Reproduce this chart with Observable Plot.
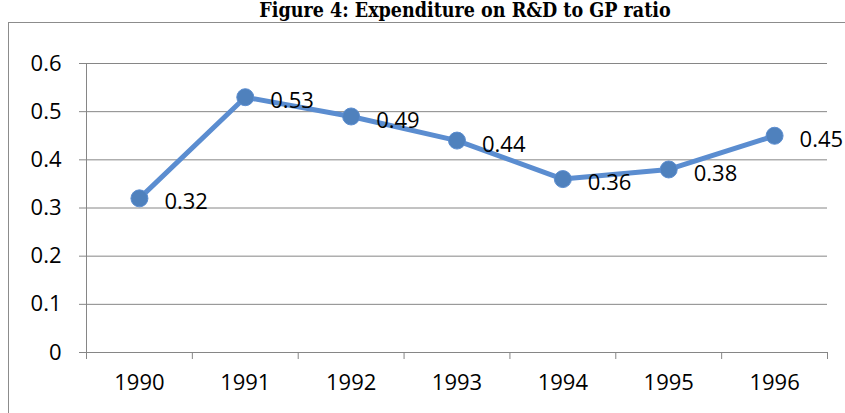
<!DOCTYPE html>
<html>
<head>
<meta charset="utf-8">
<script src="https://cdn.jsdelivr.net/npm/d3@7"></script>
<script src="https://cdn.jsdelivr.net/npm/@observablehq/plot@0.6"></script>
<style>
  html, body { margin: 0; padding: 0; background: #fff; overflow: hidden; }
  #title { position: absolute; left: 0; top: 0; width: 930px; text-align: center;
    font-family: "DejaVu Serif Condensed", "DejaVu Serif", serif; font-weight: bold; font-size: 19.5px; line-height: 22px; color: #000; }
  #box { position: absolute; left: 8px; top: 22px; width: 845px; height: 400px; border: 1px solid #8c8c8c; box-sizing: border-box; }
  #chart { position: absolute; left: 9px; top: 23px; }
</style>
</head>
<body>
<div id="title">Figure 4: Expenditure on R&amp;D to GP ratio</div>
<div id="box"></div>
<div id="chart"></div>
<script>
const years = [1990, 1991, 1992, 1993, 1994, 1995, 1996];
const ratios = [0.32, 0.53, 0.49, 0.44, 0.36, 0.38, 0.45];
const yTicks = [0, 0.1, 0.2, 0.3, 0.4, 0.5, 0.6];

const data = years.map((y, i) => ({year: y, value: ratios[i]}));
const boundaries = years.map(y => y - 0.5).concat([years[years.length - 1] + 0.5]);

const gray = "#868686";
const blue = "#4F81BD";

const chart = Plot.plot({
  width: 836,
  height: 390,
  marginLeft: 77,
  marginRight: 18,
  marginTop: 40,
  marginBottom: 61,
  style: {fontFamily: "'Open Sans', sans-serif", fontSize: "22px", color: "#000", background: "transparent"},
  x: {type: "linear", domain: [boundaries[0], boundaries[boundaries.length - 1]]},
  y: {domain: [0, 0.6]},
  marks: [
    Plot.gridY(yTicks, {stroke: gray, strokeOpacity: 1, strokeWidth: 1}),
    Plot.ruleX([boundaries[0]], {stroke: gray, strokeWidth: 1}),
    Plot.axisY({ticks: yTicks, tickSize: 7, tickPadding: 18, stroke: gray, strokeOpacity: 1, label: null,
      tickFormat: d => d === 0 ? "0" : d.toFixed(1), fill: "#000"}),
    Plot.axisX({ticks: boundaries, tickSize: 7, tickFormat: () => "", stroke: gray, strokeOpacity: 1, label: null}),
    Plot.axisX({ticks: years, tickSize: 0, tickPadding: 22, tickFormat: d => String(d), label: null, fill: "#000"}),
    Plot.line(data, {x: "year", y: "value", stroke: "#5B8DD0", strokeWidth: 5, strokeLinejoin: "round"}),
    Plot.dot(data, {x: "year", y: "value", r: 8.5, fill: blue, stroke: "#5B8DD0", strokeWidth: 1}),
    Plot.text(data, {x: "year", y: "value", text: d => d.value.toFixed(2), textAnchor: "start", dx: 25, dy: 4, fill: "#000"})
  ]
});
document.getElementById("chart").appendChild(chart);
</script>
</body>
</html>
